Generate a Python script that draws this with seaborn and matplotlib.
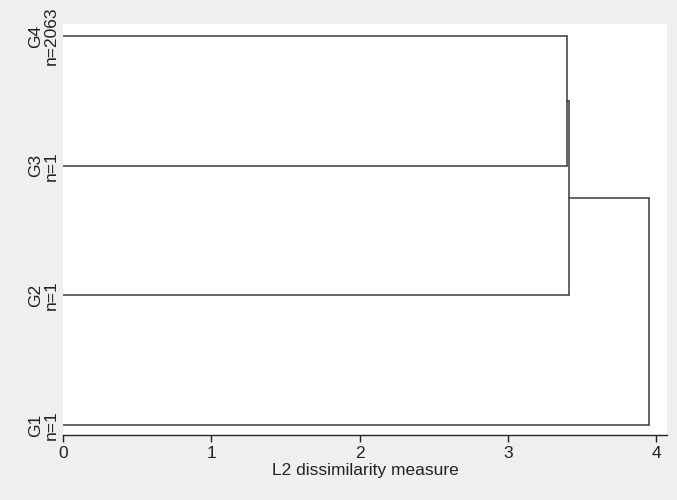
import matplotlib
matplotlib.use("Agg")
import matplotlib.pyplot as plt
import seaborn as sns
import pandas as pd

# ---- data ----
leaf_names = ["G1", "G2", "G3", "G4"]          # bottom to top
leaf_counts = [1, 1, 1, 2063]
# merges: (left node, right node, height); nodes 0-3 are leaves, 4+ are clusters
merge_left = [2, 1, 0]
merge_right = [3, 4, 5]
merge_height = [3.40, 3.41, 3.95]
xticks = [0, 1, 2, 3, 4]
xlabel = "L2 dissimilarity measure"

# ---- build dendrogram segments ----
pos = {i: float(i) for i in range(len(leaf_names))}
hgt = {i: 0.0 for i in range(len(leaf_names))}
rows = []
seg = 0
for k, (a, b, h) in enumerate(zip(merge_left, merge_right, merge_height)):
    node = len(leaf_names) + k
    for child in (a, b):
        rows.append(dict(x=hgt[child], y=pos[child], seg=seg))
        rows.append(dict(x=h, y=pos[child], seg=seg))
        seg += 1
    rows.append(dict(x=h, y=pos[a], seg=seg))
    rows.append(dict(x=h, y=pos[b], seg=seg))
    seg += 1
    pos[node] = (pos[a] + pos[b]) / 2
    hgt[node] = h
df = pd.DataFrame(rows)

sns.set_theme(style="white")
plt.rcParams["font.family"] = ["Liberation Sans", "DejaVu Sans"]

bg = "#efefef"
fig = plt.figure(figsize=(6.77, 5.0), dpi=100, facecolor=bg)
ax = fig.add_axes([63 / 677, 65 / 500, (667 - 63) / 677, (435 - 24) / 500])
ax.set_facecolor("white")

sns.lineplot(data=df, x="x", y="y", units="seg", estimator=None, sort=False,
             color="#3a3a3a", linewidth=1.1, ax=ax, legend=False)

ax.set_xlim(0, 4.074)
ax.set_ylim(-0.077, 3.093)
ax.set_xticks(xticks)
ax.set_xticklabels([str(t) for t in xticks], fontsize=12.5, color="#222222")
ax.set_yticks(range(len(leaf_names)))
ax.set_yticklabels([f"{g}\nn={n}" for g, n in zip(leaf_names, leaf_counts)],
                   fontsize=12.5, rotation=90, va="center", ha="right",
                   multialignment="center", linespacing=1.12, color="#222222")
ax.tick_params(axis="x", which="both", bottom=True, length=5, width=1,
               color="#222222", pad=3)
ax.tick_params(axis="y", left=False, pad=-3.2)
ax.set_xlabel(xlabel, fontsize=12.5, color="#222222", labelpad=1)
ax.set_ylabel("")

for s in ["top", "right", "left"]:
    ax.spines[s].set_visible(False)
ax.spines["bottom"].set_color("#222222")
ax.spines["bottom"].set_linewidth(1.0)

fig.savefig("out.png", dpi=100, facecolor=bg)
